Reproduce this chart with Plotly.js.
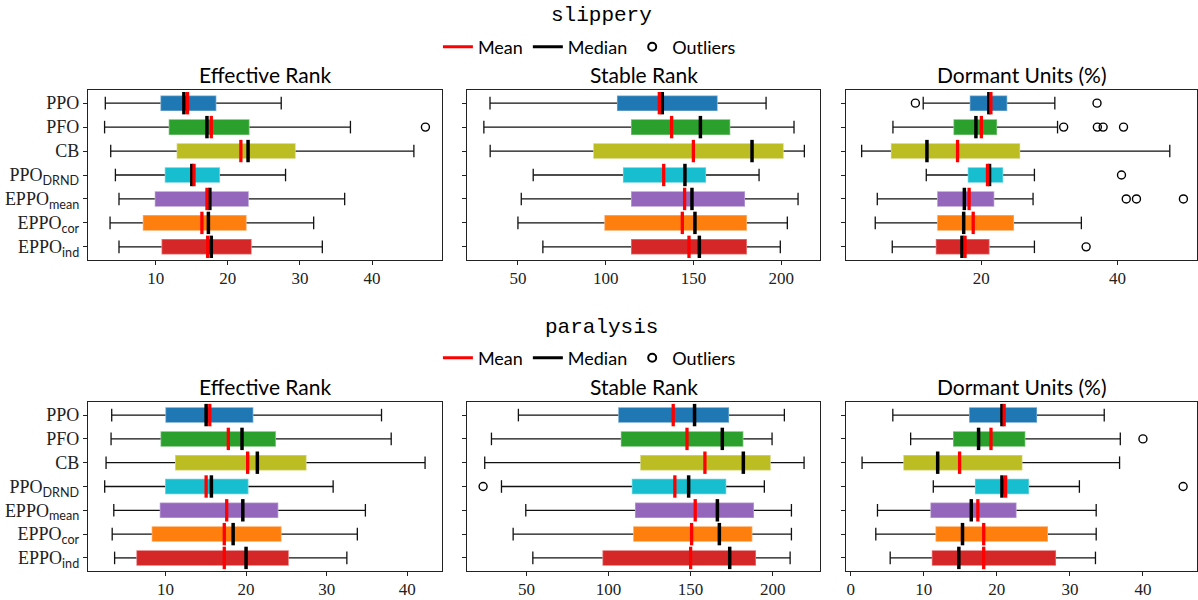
<!DOCTYPE html>
<html><head><meta charset="utf-8">
<script src="https://cdn.plot.ly/plotly-3.0.1.min.js"></script>
<style>html,body{margin:0;padding:0;background:#fff}#chart{width:1198px;height:600px}</style>
</head><body><div id="chart"></div>
<script>
// ---------- data ----------
const CATS = ['PPO','PFO','CB','PPO_DRND','EPPO_mean','EPPO_cor','EPPO_ind'];
const SANS_SUB = s => '<sub><span style="font-family:Lato">' + s + '</span></sub>';
const CAT_LABELS = ['PPO','PFO','CB','PPO' + SANS_SUB('DRND'),'EPPO' + SANS_SUB('mean'),'EPPO' + SANS_SUB('cor'),'EPPO' + SANS_SUB('ind')];
const BOX_COLORS = ['#1f77b4','#2ca02c','#bcbd22','#17becf','#9467bd','#ff7f0e','#d62728'];
const PANEL_TITLES = ['Effective Rank','Stable Rank','Dormant Units (%)'];
const ROW_TITLES = ['slippery','paralysis'];

// slippery - Effective Rank
const slipEffLo   = [3.0, 2.9, 3.75, 4.4, 4.9, 3.66, 4.9];
const slipEffQ1   = [10.65, 11.8, 12.9, 11.25, 9.86, 8.2, 10.8];
const slipEffMed  = [13.9, 17.1, 22.8, 15.0, 17.5, 17.3, 17.7];
const slipEffMean = [14.4, 17.7, 21.8, 15.3, 17.1, 16.4, 17.2];
const slipEffQ3   = [18.4, 23.0, 29.4, 18.9, 22.9, 22.6, 23.3];
const slipEffHi   = [27.4, 37.0, 45.8, 28.0, 36.2, 31.9, 33.1];
const slipEffOutX = [47.4];
const slipEffOutCat = ['PFO'];

// slippery - Stable Rank
const slipStaLo   = [34.1, 30.6, 34.2, 58.7, 51.9, 50.0, 64.2];
const slipStaQ1   = [106.4, 114.4, 92.9, 109.8, 114.4, 99.2, 114.4];
const slipStaMed  = [132.2, 153.9, 183.3, 145.1, 149.1, 150.8, 153.3];
const slipStaMean = [130.5, 137.5, 149.9, 133.0, 144.9, 143.6, 147.4];
const slipStaQ3   = [163.7, 170.9, 201.3, 157.1, 179.3, 180.4, 180.4];
const slipStaHi   = [191.3, 207.2, 213.1, 187.3, 209.5, 203.4, 199.4];
const slipStaOutX = [];
const slipStaOutCat = [];

// slippery - Dormant Units
const slipDorLo   = [11.45, 7.0, 2.4, 11.9, 4.7, 4.4, 6.9];
const slipDorQ1   = [18.3, 15.9, 6.7, 18.0, 13.5, 13.5, 13.3];
const slipDorMed  = [21.1, 19.2, 12.0, 21.2, 17.5, 17.4, 17.15];
const slipDorMean = [21.4, 20.0, 16.5, 20.9, 18.2, 18.8, 17.6];
const slipDorQ3   = [23.8, 22.3, 25.7, 23.2, 21.9, 24.8, 21.2];
const slipDorHi   = [30.8, 31.2, 47.7, 27.8, 27.6, 34.7, 27.8];
const slipDorOutX = [10.3, 37.0, 32.1, 37.05, 37.9, 40.9, 40.6, 41.3, 42.8, 49.7, 35.4];
const slipDorOutCat = ['PPO','PPO','PFO','PFO','PFO','PFO','PPO_DRND','EPPO_mean','EPPO_mean','EPPO_mean','EPPO_ind'];

// paralysis - Effective Rank
const paraEffLo   = [3.34, 3.26, 2.64, 2.47, 3.6, 3.4, 3.7];
const paraEffQ1   = [10.0, 9.4, 11.2, 9.96, 9.3, 8.3, 6.4];
const paraEffMed  = [15.05, 19.5, 21.4, 15.7, 19.6, 18.4, 20.0];
const paraEffMean = [15.5, 17.8, 20.2, 15.05, 17.6, 17.3, 17.3];
const paraEffQ3   = [20.9, 23.7, 27.5, 20.3, 24.0, 24.4, 25.3];
const paraEffHi   = [36.8, 38.0, 42.2, 30.8, 34.8, 33.8, 32.5];
const paraEffOutX = [];
const paraEffOutCat = [];

// paralysis - Stable Rank
const paraStaLo   = [45.1, 28.7, 24.6, 34.8, 49.6, 41.9, 53.9];
const paraStaQ1   = [105.9, 107.5, 119.3, 114.2, 116.1, 115.0, 96.3];
const paraStaMed  = [152.4, 169.3, 182.1, 148.8, 166.3, 167.5, 173.8];
const paraStaMean = [139.4, 147.8, 158.7, 140.4, 152.8, 150.6, 150.0];
const paraStaQ3   = [173.4, 182.1, 198.8, 171.7, 188.6, 187.6, 189.8];
const paraStaHi   = [207.1, 199.6, 219.1, 194.9, 211.4, 211.4, 210.6];
const paraStaOutX = [23.6];
const paraStaOutCat = ['PPO_DRND'];

// paralysis - Dormant Units
const paraDorLo   = [5.76, 8.2, 1.55, 11.3, 3.66, 3.43, 5.4];
const paraDorQ1   = [16.2, 14.0, 7.2, 17.0, 10.9, 11.6, 11.1];
const paraDorMed  = [20.7, 17.5, 11.9, 20.7, 16.5, 15.3, 14.8];
const paraDorMean = [21.0, 19.2, 14.9, 21.2, 17.4, 18.2, 18.2];
const paraDorQ3   = [25.5, 23.9, 23.5, 24.4, 22.7, 27.0, 28.1];
const paraDorHi   = [34.7, 36.9, 36.8, 31.3, 33.6, 33.6, 33.5];
const paraDorOutX = [40.0, 45.5];
const paraDorOutCat = ['PFO','PPO_DRND'];

const X_RANGES = [[0.6, 49.7],[21, 222],[0.1, 51.7],[0.4, 44.3],[13.8, 228.8],[-0.65, 47.4]];
const X_DTICK  = [10, 50, 20, 10, 50, 10];

// ---------- build ----------
const panels = [
  [slipEffLo, slipEffQ1, slipEffMed, slipEffMean, slipEffQ3, slipEffHi, slipEffOutX, slipEffOutCat],
  [slipStaLo, slipStaQ1, slipStaMed, slipStaMean, slipStaQ3, slipStaHi, slipStaOutX, slipStaOutCat],
  [slipDorLo, slipDorQ1, slipDorMed, slipDorMean, slipDorQ3, slipDorHi, slipDorOutX, slipDorOutCat],
  [paraEffLo, paraEffQ1, paraEffMed, paraEffMean, paraEffQ3, paraEffHi, paraEffOutX, paraEffOutCat],
  [paraStaLo, paraStaQ1, paraStaMed, paraStaMean, paraStaQ3, paraStaHi, paraStaOutX, paraStaOutCat],
  [paraDorLo, paraDorQ1, paraDorMed, paraDorMean, paraDorQ3, paraDorHi, paraDorOutX, paraDorOutCat]
];

const BOX_W = 0.65;
const traces = [];
panels.forEach((p, i) => {
  const [lo, q1, med, mean, q3, hi, outX, outCat] = p;
  const xa = 'x' + (i === 0 ? '' : i + 1), ya = 'y' + (i === 0 ? '' : i + 1);
  const wx = [], wy = [];
  CATS.forEach((c, k) => { wx.push(lo[k], q1[k], null, q3[k], hi[k], null); wy.push(c, c, null, c, c, null); });
  traces.push({type:'scatter', mode:'lines', x:wx, y:wy, xaxis:xa, yaxis:ya, showlegend:false, hoverinfo:'skip',
    line:{color:'#111', width:1.3}});
  traces.push({type:'scatter', mode:'markers', x:lo.concat(hi), y:CATS.concat(CATS), xaxis:xa, yaxis:ya, showlegend:false, hoverinfo:'skip',
    marker:{symbol:'line-ns', size:9, color:'#111', line:{color:'#111', width:1.3}}});
  traces.push({type:'bar', orientation:'h', y:CATS, x:q3.map((v, k) => v - q1[k]), base:q1, width:BOX_W,
    xaxis:xa, yaxis:ya, showlegend:false, hoverinfo:'skip',
    marker:{color:BOX_COLORS, line:{color:'rgba(255,255,255,0.35)', width:1.5}}});
  traces.push({type:'scatter', mode:'markers', x:med, y:CATS, xaxis:xa, yaxis:ya, showlegend:false, hoverinfo:'skip',
    marker:{symbol:'line-ns', size:16, color:'#000', line:{color:'#000', width:3.5}}});
  traces.push({type:'scatter', mode:'markers', x:mean, y:CATS, xaxis:xa, yaxis:ya, showlegend:false, hoverinfo:'skip',
    marker:{symbol:'line-ns', size:16, color:'#ff0000', line:{color:'#ff0000', width:3.3}}});
  traces.push({type:'scatter', mode:'markers', x:outX, y:outCat, xaxis:xa, yaxis:ya, showlegend:false, hoverinfo:'skip',
    marker:{symbol:'circle-open', size:8, color:'#000', line:{color:'#000', width:1.4}}});
});

['legend','legend2'].forEach((lg, r) => {
  const xa = r === 0 ? 'x' : 'x4', ya = r === 0 ? 'y' : 'y4';
  traces.push({type:'scatter', mode:'lines', x:[null], y:[null], xaxis:xa, yaxis:ya, name:'Mean', legend:lg,
    line:{color:'#ff0000', width:3}});
  traces.push({type:'scatter', mode:'lines', x:[null], y:[null], xaxis:xa, yaxis:ya, name:'Median', legend:lg,
    line:{color:'#000', width:3}});
  traces.push({type:'scatter', mode:'markers', x:[null], y:[null], xaxis:xa, yaxis:ya, name:'Outliers', legend:lg,
    marker:{symbol:'circle-open', size:8, color:'#000', line:{color:'#000', width:2}}});
});

const W = 1198, H = 600;
const XDOM = [[88/W, 442/W],[467/W, 820/W],[846/W, 1197/W]];
const YDOM = [[1 - 260/H, 1 - 90/H],[1 - 571/H, 1 - 402/H]];
const SERIF = 'Liberation Serif, DejaVu Serif, serif';
const SANS = 'Lato, Open Sans, sans-serif';

const legendStyle = y => ({orientation:'h', x:0.492, xanchor:'center', y:y, yanchor:'middle', bgcolor:'rgba(0,0,0,0)',
  font:{family:SANS, size:18, color:'#000'}, itemwidth:30, traceorder:'normal'});

const layout = {
  width: W, height: H, margin:{l:0, r:0, t:0, b:0},
  paper_bgcolor:'#fff', plot_bgcolor:'#fff', bargap:0, barmode:'overlay',
  font:{family:SANS, color:'#000'},
  annotations: [],
  legend: legendStyle(1 - 47/H),
  legend2: legendStyle(1 - 358/H)
};

for (let i = 0; i < 6; i++) {
  const row = Math.floor(i / 3), col = i % 3;
  const sfx = i === 0 ? '' : String(i + 1);
  layout['xaxis' + sfx] = {
    domain: XDOM[col], anchor: 'y' + sfx, range: X_RANGES[i], dtick: X_DTICK[i], tick0: 0,
    showgrid:false, zeroline:false, showline:true, mirror:true, linecolor:'#222', linewidth:1.2,
    ticks:'outside', ticklen:4, tickcolor:'#222', ticklabelstandoff:-2,
    tickfont:{family:SERIF, size:17, color:'#222'}
  };
  layout['yaxis' + sfx] = {
    domain: YDOM[row], anchor: 'x' + sfx, type:'category', categoryarray: CATS, categoryorder:'array',
    range:[6.55, -0.55],
    tickmode:'array', tickvals: CATS, ticktext: CAT_LABELS, showticklabels: col === 0,
    showgrid:false, zeroline:false, showline:true, mirror:true, linecolor:'#222', linewidth:1.2,
    ticks:'outside', ticklen:4, tickcolor:'#222', tickfont:{family:SERIF, size:18, color:'#222'}
  };
  layout.annotations.push({
    text: PANEL_TITLES[col], xref:'paper', yref:'paper', x:(XDOM[col][0] + XDOM[col][1]) / 2, y:YDOM[row][1],
    xanchor:'center', yanchor:'bottom', yshift:1, showarrow:false, font:{family:SANS, size:21, color:'#000'}
  });
}
ROW_TITLES.forEach((t, r) => {
  layout.annotations.push({
    text: t, xref:'paper', yref:'paper', x:0.5025, y:r === 0 ? 1 - 16/H : 1 - 327/H,
    xanchor:'center', yanchor:'middle', showarrow:false,
    font:{family:'Liberation Mono, DejaVu Sans Mono, monospace', size:21, color:'#000'}
  });
});

Plotly.newPlot('chart', traces, layout, {staticPlot:true, displayModeBar:false});
</script>
</body></html>
